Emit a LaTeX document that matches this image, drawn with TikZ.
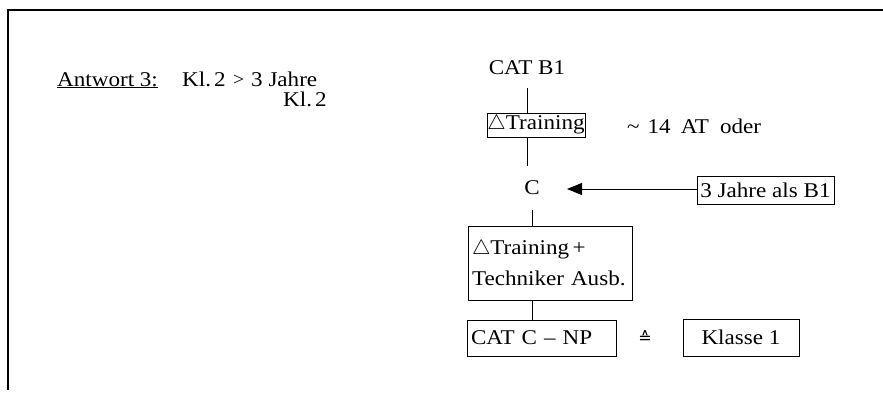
\documentclass[tikz,border=0pt]{standalone}
\usepackage{fontspec}
\setmainfont[FakeStretch=1.1]{Liberation Serif}
\newfontfamily\symfont{DejaVu Sans}
\usetikzlibrary{arrows.meta}
\tikzset{
  txt/.style={inner sep=0pt, font=\fontsize{21}{25}\selectfont},
  boxed/.style={draw, line width=1pt, inner sep=0pt, font=\fontsize{21}{25}\selectfont},
  conn/.style={line width=0.9pt},
  frame/.style={line width=1.4pt}
}
\begin{document}
\begin{tikzpicture}[x=1pt,y=-1pt]
\useasboundingbox (0,0) rectangle (883,396);
% frame
\coordinate (fbl) at (8,390);
\coordinate (ftl) at (8,10);
\coordinate (ftr) at (883,10);
\draw[frame] (fbl) -- (ftl) -- (ftr);
% left texts
\node[txt, anchor=base west] (antw) at (57,86) {\underline{Antwort 3:}};
\node[txt, anchor=base west] (kl1) at (182,86) {Kl.\hspace{3pt}2};
\node[txt, anchor=base west, font=\fontsize{18}{20}\selectfont] (gt) at (233,85) {>};
\node[txt, anchor=base west] (jahre3) at (251,86) {3 Jahre};
\node[txt, anchor=base west] (kl2) at (283,106) {Kl.\hspace{3pt}2};
% right diagram
\node[txt, minimum height=40pt] (cat) at (527,68) {CAT B1};
\node[boxed, minimum width=98pt, minimum height=24pt] (train) at (536,125) {$\triangle$Training};
\node[txt, anchor=west] (at14) at (627,126) {\textasciitilde\hspace{8pt}14\hspace{10pt}AT\hspace{11pt}oder};
\node[txt, minimum height=44pt] (c) at (532,188) {C};
\node[boxed, minimum width=137pt, minimum height=28pt] (jahre) at (765.5,190) {3 Jahre als B1};
\coordinate (tip) at (567,189);
\node[boxed, minimum width=164pt, minimum height=74pt, text width=156pt, align=left] (tp) at (550,263) {$\triangle$Training\,+\\[6pt]Techniker Ausb.};
\node[boxed, minimum width=149pt, minimum height=36pt, text width=141pt, align=left] (catc) at (541.5,338) {CAT C -- NP};
\node[txt, font=\symfont\fontsize{16}{18}\selectfont] (eq) at (645,337) {≙};
\node[boxed, minimum width=116pt, minimum height=37pt] (kl) at (741,337.5) {Klasse 1};
% connectors
\draw[conn] (cat.south) -- (cat.south |- train.north);
\draw[conn] (cat.south |- train.south) -- (cat.south |- c.north);
\draw[conn] (c.south) -- (c.south |- tp.north);
\draw[conn] (c.south |- tp.south) -- (c.south |- catc.north);
\draw[conn, -{Triangle[length=15pt,width=12pt]}] (tip -| jahre.west) -- (tip);
\end{tikzpicture}
\end{document}
